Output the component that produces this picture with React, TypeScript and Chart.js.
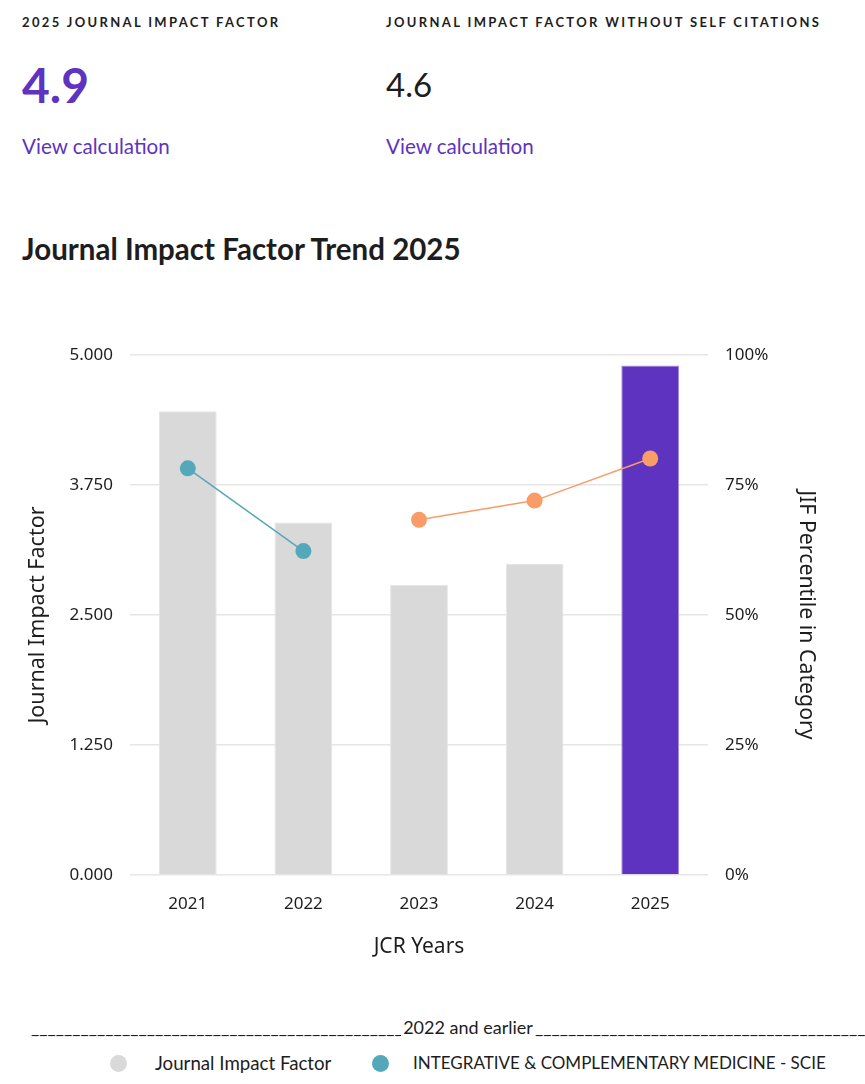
import React, { useEffect, useRef } from "react";
import { Chart, registerables } from "chart.js";

Chart.register(...registerables);

const years = ["2021", "2022", "2023", "2024", "2025"];
const jifValues = [4.46, 3.39, 2.79, 2.99, 4.9];
const categoryPercentileEarly = [78.2, 62.3, null, null, null];
const categoryPercentileLate = [null, null, 68.3, 72.0, 80.1];
const leftTicks = [0, 1.25, 2.5, 3.75, 5];
const rightTicks = [0, 25, 50, 75, 100];

const PURPLE = "#5e33bf";
const GREY_BAR = "#d9d9d9";
const TEAL = "#54a8b9";
const ORANGE = "#f89d68";
const INK = "#1d1d1d";
const UI_FONT = "Lato, 'Noto Sans', sans-serif";
const CHART_FONT = "'Noto Sans', sans-serif";

function TrendChart() {
  const ref = useRef<HTMLCanvasElement | null>(null);

  useEffect(() => {
    if (!ref.current) return;
    const chart = new Chart(ref.current, {
      data: {
        labels: years,
        datasets: [
          {
            type: "line",
            label: "INTEGRATIVE & COMPLEMENTARY MEDICINE - SCIE",
            data: categoryPercentileEarly,
            yAxisID: "y1",
            borderColor: TEAL,
            backgroundColor: TEAL,
            pointBackgroundColor: TEAL,
            pointBorderWidth: 0,
            pointRadius: 8,
            borderWidth: 1.5,
            spanGaps: false,
            order: 1,
          },
          {
            type: "line",
            label: "2023 and later",
            data: categoryPercentileLate,
            yAxisID: "y1",
            borderColor: ORANGE,
            backgroundColor: ORANGE,
            pointBackgroundColor: ORANGE,
            pointBorderWidth: 0,
            pointRadius: 8,
            borderWidth: 1.5,
            spanGaps: false,
            order: 1,
          },
          {
            type: "bar",
            label: "Journal Impact Factor",
            data: jifValues,
            yAxisID: "y",
            backgroundColor: years.map((_, i) => (i === years.length - 1 ? PURPLE : GREY_BAR)),
            borderColor: years.map((_, i) => (i === years.length - 1 ? "#a58be0" : "#e4e4e4")),
            borderWidth: 1,
            barPercentage: 0.5,
            categoryPercentage: 1,
            order: 2,
          },
        ],
      },
      options: {
        animation: false,
        responsive: false,
        maintainAspectRatio: false,
        layout: { padding: { left: 21, right: 42, top: 54, bottom: 7 } },
        plugins: { legend: { display: false }, tooltip: { enabled: false } },
        scales: {
          x: {
            grid: { display: false, drawTicks: false },
            border: { display: false },
            ticks: { color: INK, padding: 19, font: { family: CHART_FONT, size: 17 } },
            title: {
              display: true,
              text: "JCR Years",
              color: INK,
              font: { family: CHART_FONT, size: 21 },
              padding: { top: 4, bottom: 4 },
            },
            afterFit: (s: any) => {
              s.height = 89;
            },
          },
          y: {
            position: "left",
            min: 0,
            max: 5,
            afterBuildTicks: (s: any) => {
              s.ticks = leftTicks.map((v) => ({ value: v }));
            },
            grid: { color: "#e6e6e6", lineWidth: 1.5, drawTicks: false },
            border: { display: false },
            ticks: {
              color: INK,
              padding: 17,
              font: { family: CHART_FONT, size: 17 },
              callback: (v: any) => Number(v).toFixed(3),
            },
            title: {
              display: true,
              text: "Journal Impact Factor",
              color: INK,
              font: { family: CHART_FONT, size: 21.5 },
              padding: { top: 4, bottom: 4 },
            },
            afterFit: (s: any) => {
              s.width = 109;
            },
          },
          y1: {
            position: "right",
            min: 0,
            max: 100,
            afterBuildTicks: (s: any) => {
              s.ticks = rightTicks.map((v) => ({ value: v }));
            },
            grid: { display: false, drawTicks: false },
            border: { display: false },
            ticks: {
              color: INK,
              padding: 17,
              font: { family: CHART_FONT, size: 17 },
              callback: (v: any) => `${v}%`,
            },
            title: {
              display: true,
              text: "JIF Percentile in Category",
              color: INK,
              font: { family: CHART_FONT, size: 21.3 },
              padding: { top: 4, bottom: 4 },
            },
            afterFit: (s: any) => {
              s.width = 115;
            },
          },
        },
      },
    } as any);
    return () => chart.destroy();
  }, []);

  return (
    <canvas
      ref={ref}
      width={865}
      height={670}
      style={{ position: "absolute", left: 0, top: 301, width: 865, height: 670 }}
    />
  );
}

const abs = (left: number, top: number, extra: React.CSSProperties = {}): React.CSSProperties => ({
  position: "absolute",
  left,
  top,
  whiteSpace: "nowrap",
  margin: 0,
  ...extra,
});

export default function App() {
  useEffect(() => {
    document.body.style.margin = "0";
  }, []);

  const capsLabel: React.CSSProperties = {
    fontFamily: UI_FONT,
    fontWeight: 700,
    fontSize: 13,
    letterSpacing: 2.35,
    lineHeight: "20px",
    color: INK,
  };
  const link: React.CSSProperties = {
    fontFamily: UI_FONT,
    fontSize: 20.6,
    lineHeight: "26px",
    color: PURPLE,
  };
  const rule = "_".repeat(80);

  return (
    <div style={{ position: "relative", width: 865, height: 1084, overflow: "hidden", background: "#fff" }}>
      <div style={abs(22, 12, capsLabel)}>2025 JOURNAL IMPACT FACTOR</div>
      <div style={abs(386, 12, capsLabel)}>JOURNAL IMPACT FACTOR WITHOUT SELF CITATIONS</div>

      <div style={abs(22, 57, { fontFamily: UI_FONT, fontWeight: 700, fontSize: 48, lineHeight: "56px", color: PURPLE })}>4.9</div>
      <div style={abs(386, 64, { fontFamily: UI_FONT, fontSize: 33, lineHeight: "40px", color: INK })}>4.6</div>

      <div style={abs(22, 133, link)}>View calculation</div>
      <div style={abs(386, 133, link)}>View calculation</div>

      <div style={abs(22, 230, { fontFamily: UI_FONT, fontWeight: 700, fontSize: 29.5, lineHeight: "38px", color: INK })}>
        Journal Impact Factor Trend 2025
      </div>

      <TrendChart />

      <div style={abs(31, 1015, { fontFamily: UI_FONT, fontSize: 18, lineHeight: "24px", color: INK })}>
        <span style={{ display: "inline-block", width: 370, overflow: "hidden", verticalAlign: "bottom" }}>{rule}</span>
        <span style={{ display: "inline-block", width: 134, textAlign: "center", verticalAlign: "bottom" }}>2022 and earlier</span>
        <span style={{ display: "inline-block", width: 340, overflow: "hidden", verticalAlign: "bottom" }}>{rule}</span>
      </div>

      <div style={abs(0, 1051, { width: 865, fontFamily: UI_FONT, lineHeight: "24px", color: INK })}>
        <span style={abs(110, 4, { width: 17, height: 17, borderRadius: "50%", background: GREY_BAR })} />
        <span style={abs(155, 0, { fontSize: 18.7 })}>Journal Impact Factor</span>
        <span style={abs(372, 4, { width: 17, height: 17, borderRadius: "50%", background: TEAL })} />
        <span style={abs(413, 0, { fontSize: 17 })}>INTEGRATIVE &amp; COMPLEMENTARY MEDICINE - SCIE</span>
      </div>
    </div>
  );
}
